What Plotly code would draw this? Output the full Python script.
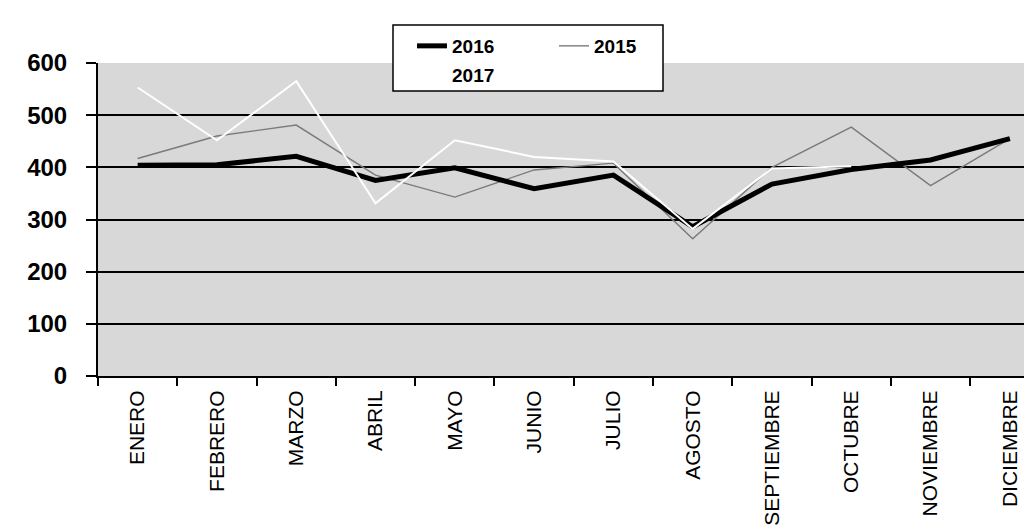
import plotly.graph_objects as go

months = ["ENERO", "FEBRERO", "MARZO", "ABRIL", "MAYO", "JUNIO", "JULIO",
          "AGOSTO", "SEPTIEMBRE", "OCTUBRE", "NOVIEMBRE", "DICIEMBRE"]
v2016 = [404, 405, 421, 375, 399, 359, 385, 286, 368, 396, 414, 455]
v2015 = [417, 460, 481, 385, 343, 395, 408, 263, 400, 477, 365, 455]
v2017 = [553, 452, 565, 331, 452, 420, 411, 282, 398, 402, None, None]
y_ticks = [0, 100, 200, 300, 400, 500, 600]

FONT = "Arial, Liberation Sans, sans-serif"

fig = go.Figure()
fig.add_trace(go.Scatter(x=months, y=v2015, name="2015", mode="lines",
                         line=dict(color="#7a7a7a", width=1.4),
                         legend="legend", legendrank=2))
fig.add_trace(go.Scatter(x=months, y=v2016, name="2016", mode="lines",
                         line=dict(color="#000000", width=5),
                         legend="legend", legendrank=1))
fig.add_trace(go.Scatter(x=months, y=v2017, name="2017", mode="lines",
                         line=dict(color="#ffffff", width=2),
                         legend="legend2", legendrank=3))

fig.update_layout(
    width=1032, height=529,
    margin=dict(l=90, r=0, t=55, b=161, autoexpand=False),
    paper_bgcolor="white",
    plot_bgcolor="#d8d8d8",
    font=dict(family=FONT, color="black"),
    showlegend=True,
    legend=dict(orientation="h", x=(404 - 90) / 942, xanchor="left",
                y=(368 - 19) / 313, yanchor="top",
                bgcolor="rgba(0,0,0,0)", entrywidth=97,
                font=dict(family=FONT, size=19, color="black", weight="bold"),
                itemwidth=30),
    legend2=dict(orientation="h", x=(404 - 90) / 942, xanchor="left",
                 y=(368 - 48) / 313, yanchor="top",
                 bgcolor="rgba(0,0,0,0)",
                 font=dict(family=FONT, size=19, color="black", weight="bold")),
    shapes=[dict(type="rect", xref="paper", yref="paper",
                 x0=(385 - 90) / 942, x1=(655 - 90) / 942,
                 y0=(368 - 83) / 313, y1=(368 - 17) / 313,
                 fillcolor="white", line=dict(color="black", width=1.5),
                 layer="above")],
    xaxis=dict(type="category", range=[-0.5, 11.38],
               tickson="boundaries", ticks="outside", ticklen=8,
               tickwidth=1.5, tickcolor="black",
               showline=True, linecolor="black", linewidth=2,
               showgrid=False, tickangle=-90,
               tickfont=dict(family=FONT, size=21, color="black"),
               ticklabelstandoff=4),
    yaxis=dict(range=[0, 600], tickvals=y_ticks,
               ticks="outside", ticklen=10, tickwidth=1.5, tickcolor="black",
               showline=True, linecolor="black", linewidth=2,
               showgrid=True, gridcolor="black", gridwidth=2,
               zeroline=False,
               tickfont=dict(family=FONT, size=24, color="black", weight="bold"),
               ticklabelstandoff=14),
)

fig.write_html("out.html")
